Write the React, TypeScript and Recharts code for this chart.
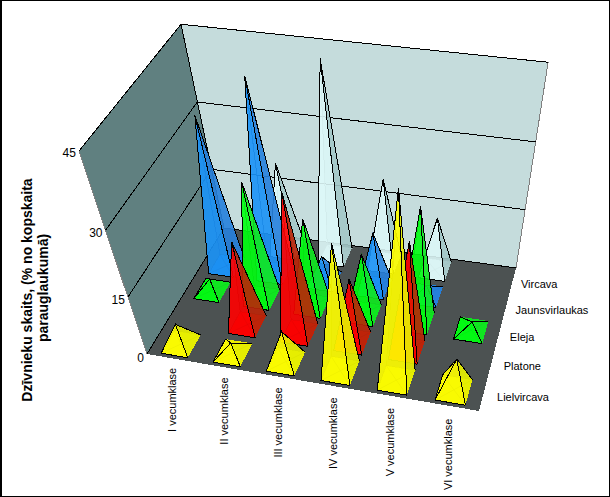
import React from "react";
import { ScatterChart, Scatter, XAxis, YAxis } from "recharts";

const W = 610;
const H = 497;
const MAX = 45;

const categories = ["I vecumklase", "II vecumklase", "III vecumklase", "IV vecumklase", "V vecumklase", "VI vecumklase"];
const seriesNames = ["Lielvircava", "Platone", "Eleja", "Jaunsvirlaukas", "Vircava"];
const valueTicks = [0, 15, 30, 45];

const lielvircava = [5.4, 2.7, 8.1, 30.5, 42.5, 8.3];
const platone = [0, 20.8, 33, 16, 26.4, 0];
const eleja = [3.1, 28, 21.6, 15.3, 27.7, 2.2];
const jaunsvirlaukas = [34.9, 43.6, 6.2, 14, 2.5, 0];
const vircava = [0, 21.3, 43.6, 20.8, 13.3, 0];
const seriesValues = [lielvircava, platone, eleja, jaunsvirlaukas, vircava];

type Pal = { front: string; left: string; right: string; back: string; base: string; faint: string; op: number };
const palettes: Pal[] = [
  { front: "#ffff00", left: "#ffff00", right: "#e8f000", back: "#f0f000", base: "#f0f400", faint: "#909000", op: 0.82 },
  { front: "#ff0000", left: "#f00808", right: "#b82808", back: "#c80808", base: "#e80808", faint: "#700c0c", op: 0.82 },
  { front: "#00ff10", left: "#00ff10", right: "#10e820", back: "#10e020", base: "#10e820", faint: "#087010", op: 0.82 },
  { front: "#1c94f8", left: "#1488ec", right: "#2880dc", back: "#1c84e0", base: "#1884e8", faint: "#0c4488", op: 0.82 },
  { front: "#e0fafa", left: "#d8f4f4", right: "#a0c4c4", back: "#b8d8d8", base: "#d0e8e8", faint: "#90a8a8", op: 0.8 },
];

// Camera of the 3D box: u across the categories, v into the depth, w up the value axis (all 0..1).
function project(u: number, v: number, w: number): [number, number] {
  const d = 1 - 0.07781 * u + 0.14685 * v - 0.22 * w;
  return [
    (294.73 * u + 109.89 * v - 85.4 * w + 147) / d + w * v * (-4 * (1 - u) - 1 * u),
    (25.02 * u - 92.52 * v - 236.2 * w + 354) / d + w * v * (-3 * (1 - u) + 3 * u),
  ];
}
const pts = (a: [number, number][]) => a.map((p) => p.join(",")).join(" ");

const HALF_U = 0.043;
const HALF_V = 0.08;

function PyramidShape(props: any) {
  const { cx, cy, payload } = props;
  const { u, v, w, s } = payload;
  const [bx, by] = project(u, v, 0);
  const at = (a: number, b: number, c: number): [number, number] => {
    const [x, y] = project(a, b, c);
    return [x - bx + cx, y - by + cy];
  };
  const pal = palettes[s];
  const base: [number, number][] = [
    at(u - HALF_U, v - HALF_V, 0),
    at(u + HALF_U, v - HALF_V, 0),
    at(u + HALF_U, v + HALF_V, 0),
    at(u - HALF_U, v + HALF_V, 0),
  ];
  const apex = at(u, v, w);
  const fills = [pal.front, pal.right, pal.back, pal.left];
  const faces = base.map((p, i) => {
    const q = base[(i + 1) % 4];
    const cross = (q[0] - p[0]) * (apex[1] - p[1]) - (q[1] - p[1]) * (apex[0] - p[0]);
    return { p, q, fill: fills[i], visible: cross < 0 };
  });
  const crisp = { shapeRendering: "crispEdges" as const };
  return (
    <g>
      <polygon points={pts(base)} fill={pal.base} fillOpacity={0.9} {...crisp} />
      {faces.filter((f) => !f.visible).map((f, i) => (
        <polygon key={"h" + i} points={pts([f.p, f.q, apex])} fill={f.fill} fillOpacity={0.5} stroke={pal.faint} strokeOpacity={0.5} strokeWidth={1} {...crisp} />
      ))}
      <line x1={base[0][0]} y1={base[0][1]} x2={base[2][0]} y2={base[2][1]} stroke={pal.faint} strokeOpacity={0.5} />
      <line x1={base[1][0]} y1={base[1][1]} x2={base[3][0]} y2={base[3][1]} stroke={pal.faint} strokeOpacity={0.5} />
      {faces.filter((f) => f.visible).map((f, i) => (
        <polygon key={"v" + i} points={pts([f.p, f.q, apex])} fill={f.fill} fillOpacity={pal.op} stroke="none" {...crisp} />
      ))}
      {faces.filter((f) => f.visible).map((f, i) => (
        <polyline key={"e" + i} points={pts([f.p, apex, f.q])} fill="none" stroke="#000" strokeWidth={1} {...crisp} />
      ))}
      {faces.slice(0, 1).concat(faces.slice(3)).filter((f) => f.visible).map((f, i) => (
        <line key={"b" + i} x1={f.p[0]} y1={f.p[1]} x2={f.q[0]} y2={f.q[1]} stroke="#000" {...crisp} />
      ))}
    </g>
  );
}

const pyramidRows = (s: number) =>
  seriesValues[s]
    .map((value, i) => {
      const u = (i + 0.5) / categories.length;
      const v = (s + 0.5) / seriesNames.length;
      const [x, y] = project(u, v, 0);
      return { x, y, u, v, w: value / MAX, s, value };
    })
    .filter((r) => r.value > 0);

function WallsShape(props: any) {
  const { cx, cy } = props;
  const [ox, oy] = project(0, 0, 0);
  const at = (a: number, b: number, c: number): [number, number] => {
    const [x, y] = project(a, b, c);
    return [x - ox + cx, y - oy + cy];
  };
  const crisp = { shapeRendering: "crispEdges" as const };
  return (
    <g>
      <polygon points={pts([at(0, 0, 0), at(0, 1, 0), at(0, 1, 1), at(0, 0, 1)])} fill="#608080" {...crisp} />
      <polygon points={pts([at(0, 1, 0), at(1, 1, 0), at(1, 1, 1), at(0, 1, 1)])} fill="#c5dcdc" {...crisp} />
      <polygon points={pts([at(0, 0, 0), at(1, 0, 0), at(1, 1, 0), at(0, 1, 0)])} fill="#4c5252" {...crisp} />
      <line x1={at(0, 0, 0)[0]} y1={at(0, 0, 0)[1]} x2={at(0, 0, 1)[0]} y2={at(0, 0, 1)[1]} stroke="#808080" {...crisp} />
      <line x1={at(1, 1, 0)[0]} y1={at(1, 1, 0)[1]} x2={at(1, 1, 1)[0]} y2={at(1, 1, 1)[1]} stroke="#808080" {...crisp} />
      <line x1={at(0, 1, 0)[0]} y1={at(0, 1, 0)[1]} x2={at(0, 1, 1)[0]} y2={at(0, 1, 1)[1]} stroke="#000" {...crisp} />
      <line x1={at(0, 0, 0)[0]} y1={at(0, 0, 0)[1]} x2={at(0, 1, 0)[0]} y2={at(0, 1, 0)[1]} stroke="#000" {...crisp} />
      <line x1={at(0, 1, 0)[0]} y1={at(0, 1, 0)[1]} x2={at(1, 1, 0)[0]} y2={at(1, 1, 0)[1]} stroke="#000" {...crisp} />
      {valueTicks.filter((t) => t > 0).map((t) => {
        const w = t / MAX;
        return <polyline key={t} points={pts([at(0, 0, w), at(0, 1, w), at(1, 1, w)])} fill="none" stroke="#000" {...crisp} />;
      })}
    </g>
  );
}

const fontFamily = "'Liberation Sans', Arial, sans-serif";

function LabelsShape(props: any) {
  const { cx, cy } = props;
  const [ox, oy] = project(0, 0, 0);
  const at = (a: number, b: number, c: number): [number, number] => {
    const [x, y] = project(a, b, c);
    return [x - ox + cx, y - oy + cy];
  };
  return (
    <g fontFamily={fontFamily} fontSize={11} fill="#000">
      {valueTicks.map((t) => {
        const w = t / MAX;
        const [x, y] = at(0, 0, w);
        return (
          <text key={t} x={x - 3} y={y + 8 - 2 * w} textAnchor="end" fontSize={12}>{t}</text>
        );
      })}
      {categories.map((c, i) => {
        const u = (i + 0.5) / categories.length;
        const [x, y] = at(u, 0, 0);
        const tx = x + 3;
        const ty = y + 9 + 4 * u;
        return (
          <text key={c} x={tx} y={ty} textAnchor="end" transform={`rotate(-90 ${tx} ${ty})`}>{c}</text>
        );
      })}
      {seriesNames.map((n, i) => {
        const v = (i + 0.5) / seriesNames.length;
        const [x, y] = at(1, v, 0);
        return (
          <text key={n} x={x + 14.5 - 7 * v} y={y + 6.5 + v} textAnchor="start">{n}</text>
        );
      })}
      <g fontWeight="bold" fontSize={14} textAnchor="middle">
        <text x={32} y={290} transform="rotate(-90 32 290)">Dzīvnieku skaits, (% no kopskaita</text>
        <text x={48} y={288} transform="rotate(-90 48 288)">parauglaukumā)</text>
      </g>
    </g>
  );
}

const originRow = (() => {
  const [x, y] = project(0, 0, 0);
  return [{ x, y }];
})();

export default function App() {
  return (
    <div style={{ position: "absolute", left: 0, top: 0, width: W, height: H, background: "#fff", overflow: "hidden" }}>
      <ScatterChart width={W} height={H} margin={{ top: 0, right: 0, bottom: 0, left: 0 }}>
        <XAxis type="number" dataKey="x" domain={[0, W]} hide />
        <YAxis type="number" dataKey="y" domain={[0, H]} reversed hide />
        <Scatter data={originRow} isAnimationActive={false} shape={WallsShape} />
        {[4, 3, 2, 1, 0].map((s) => (
          <Scatter key={s} name={seriesNames[s]} data={pyramidRows(s)} isAnimationActive={false} shape={PyramidShape} />
        ))}
        <Scatter data={originRow} isAnimationActive={false} shape={LabelsShape} />
      </ScatterChart>
      <div style={{ position: "absolute", inset: 0, boxSizing: "border-box", borderLeft: "2px solid #000", borderBottom: "1px solid #000", borderRight: "1px solid #000", borderTop: "1px solid #000", pointerEvents: "none" }} />
    </div>
  );
}
